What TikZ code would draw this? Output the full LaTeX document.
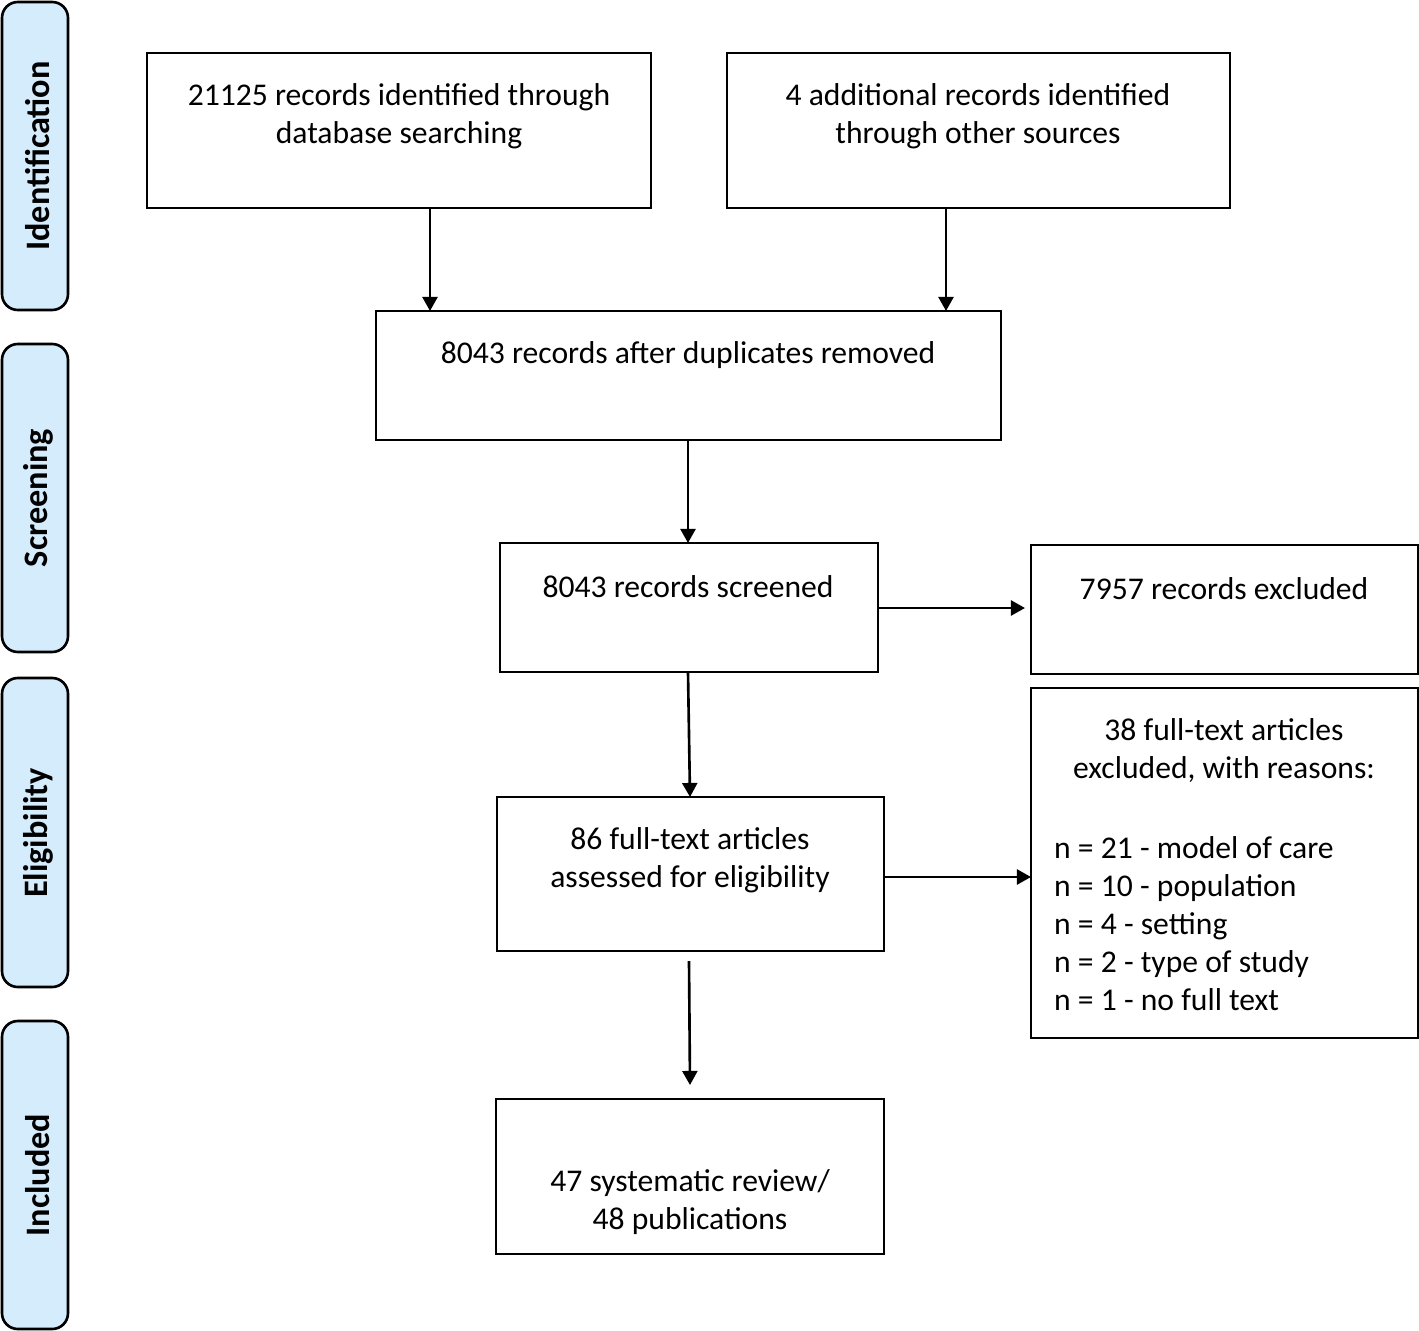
\documentclass[tikz,border=0pt]{standalone}
\usepackage{fontspec}
\setmainfont{Carlito}
\usetikzlibrary{arrows.meta}
\definecolor{stagefill}{RGB}{212,236,252}
\tikzset{
  box/.style={draw, line width=1.5pt, rectangle, inner sep=0pt},
  stage/.style={draw, line width=1.5pt, rounded corners=9pt, fill=stagefill, inner sep=0pt},
  stagetext/.style={rotate=90, font=\fontsize{19.5}{22}\selectfont\bfseries},
  txt/.style={align=center, font=\fontsize{18}{21.6}\selectfont},
  arr/.style={line width=1.5pt, -{Triangle[length=8pt,width=8.5pt]}}
}
\begin{document}
\begin{tikzpicture}[x=0.02cm, y=-0.02cm]
\useasboundingbox (0,0) rectangle (1419,1331);

% stage bars
\draw[stage] (2,2) rectangle (68,310);
\draw[stage] (2,344) rectangle (68,652);
\draw[stage] (2,678) rectangle (68,987);
\draw[stage] (2,1021) rectangle (68,1329);
\node[stagetext] (sid) at (38,156) {Identification};
\node[stagetext] (ssc) at (38,498) {Screening};
\node[stagetext] (sel) at (38,833) {Eligibility};
\node[stagetext] (sin) at (38,1175) {Included};

% boxes
\draw[box] (147,53) rectangle (651,208);
\draw[box] (727,53) rectangle (1230,208);
\draw[box] (376,311) rectangle (1001,440);
\draw[box] (500,543) rectangle (878,672);
\draw[box] (1031,545) rectangle (1418,674);
\draw[box] (497,797) rectangle (884,951);
\draw[box] (1031,688) rectangle (1418,1038);
\draw[box] (496,1099) rectangle (884,1254);

% texts
\node[txt] (tdb) at (399,116) {21125 records identified through\\database searching};
\node[txt] (tot) at (978,116) {4 additional records identified\\through other sources};
\node[txt] (tdup) at (688,355) {8043 records after duplicates removed};
\node[txt] (tscr) at (688,587) {8043 records screened};
\node[txt] (texc) at (1224,589) {7957 records excluded};
\node[txt] (tft) at (690,860) {86 full-text articles\\assessed for eligibility};
\node[txt] (tfx) at (1224,751) {38 full-text articles\\excluded, with reasons:};
\node[txt, align=left, anchor=west] (tlist) at (1048,924) {n = 21 - model of care\\n = 10 - population\\n = 4 - setting\\n = 2 - type of study\\n = 1 - no full text};
\node[txt] (tinc) at (690,1202) {47 systematic review/\\48 publications};

% arrows
\draw[arr] (430,208) -- (430,311);
\draw[arr] (946,208) -- (946,311);
\draw[arr] (688,440) -- (688,543);
\draw[arr] (878,608) -- (1025,608);
\draw[arr] (688,672) -- (690,797);
\draw[arr] (884,877) -- (1031,877);
\draw[arr] (689,961) -- (690,1085);
\end{tikzpicture}
\end{document}
